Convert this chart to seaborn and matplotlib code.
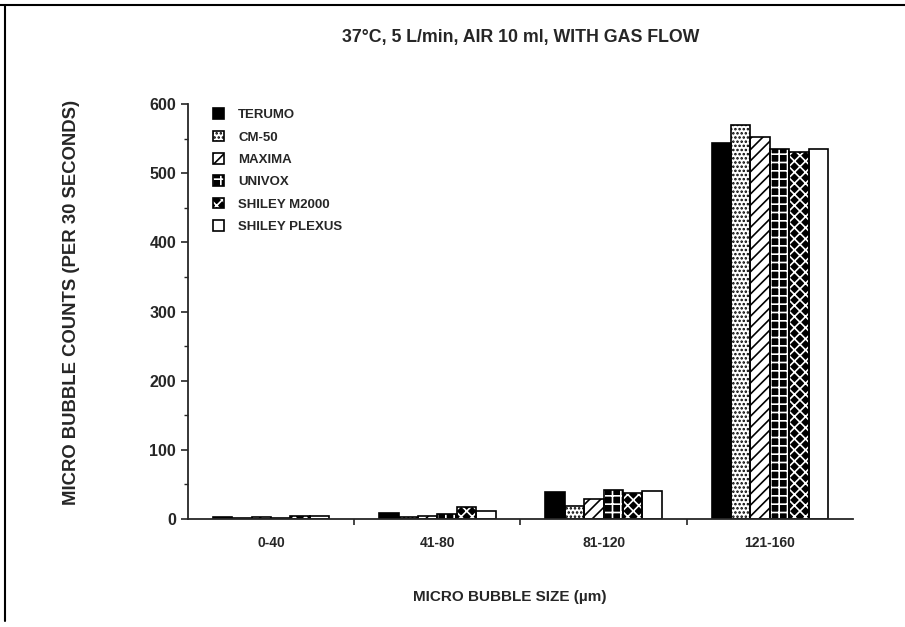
import pandas as pd
import matplotlib
matplotlib.use("Agg")
import matplotlib.pyplot as plt
import seaborn as sns
from matplotlib.patches import Patch, Rectangle
from matplotlib.legend_handler import HandlerTuple

# values
sizes = ["0-40", "41-80", "81-120", "121-160"]
devices = ["TERUMO", "CM-50", "MAXIMA", "UNIVOX", "SHILEY M2000", "SHILEY PLEXUS"]
terumo = [3, 8, 39, 543]
cm50 = [2, 3, 19, 570]
maxima = [3, 4, 29, 552]
univox = [2, 7, 42, 535]
m2000 = [4, 18, 37, 530]
plexus = [4, 11, 40, 535]
counts = [terumo, cm50, maxima, univox, m2000, plexus]

rows = []
for dev, vals in zip(devices, counts):
    for s, v in zip(sizes, vals):
        rows.append({"size": s, "device": dev, "count": v})
df = pd.DataFrame(rows)

# face colour, hatch, hatch colour per device
styles = {
    "TERUMO": ("black", "", "black"),
    "CM-50": ("white", "....", "black"),
    "MAXIMA": ("white", "///", "black"),
    "UNIVOX": ("black", "++", "white"),
    "SHILEY M2000": ("black", "xxx", "white"),
    "SHILEY PLEXUS": ("white", "", "black"),
}

sns.set_style("ticks")
plt.rcParams["font.family"] = ["Liberation Sans", "DejaVu Sans"]
plt.rcParams["font.weight"] = "bold"
plt.rcParams["hatch.linewidth"] = 1.2

fig = plt.figure(figsize=(9.05, 6.27), dpi=100)
ax = fig.add_axes([0.2077, 0.1722, 0.7348, 0.6619])

sns.barplot(data=df, x="size", y="count", hue="device", hue_order=devices,
            order=sizes, palette=["white"] * 6, width=0.7, ax=ax,
            legend=False, errorbar=None)

for dev, cont in zip(devices, ax.containers):
    face, hatch, hcol = styles[dev]
    for p in cont.patches:
        p.set_facecolor(face)
        p.set_hatch(hatch)
        p.set_edgecolor(hcol)
        p.set_linewidth(0)
        ax.add_patch(Rectangle(p.get_xy(), p.get_width(), p.get_height(),
                               fill=False, edgecolor="black", linewidth=1.2,
                               zorder=p.get_zorder() + 0.1))

handles = []
for dev in devices:
    face, hatch, hcol = styles[dev]
    h1 = Patch(facecolor=face, hatch=hatch, edgecolor=hcol, linewidth=0)
    h2 = Patch(facecolor="none", edgecolor="black", linewidth=1.2)
    handles.append((h1, h2))
ax.legend(handles, devices, handler_map={tuple: HandlerTuple(ndivide=1, pad=0)},
          loc="upper left", bbox_to_anchor=(0.02, 1.018), frameon=False,
          handlelength=0.85, handleheight=0.85, handletextpad=1.05,
          labelspacing=0.72, prop={"size": 9.5, "weight": "bold"})

ax.set_ylim(0, 600)
ax.set_xlim(-0.5, 3.5)
ax.set_yticks(range(0, 601, 100))
ax.set_yticks(range(50, 600, 100), minor=True)
ax.set_xticks([0.5, 1.5, 2.5], minor=True)
ax.tick_params(axis="x", which="major", length=0, pad=12, labelsize=10)
ax.tick_params(axis="x", which="minor", length=4, width=1.2, direction="out")
ax.tick_params(axis="y", which="major", length=5, width=1.2, labelsize=11.5)
ax.tick_params(axis="y", which="minor", length=3, width=1)
for lab in ax.get_xticklabels() + ax.get_yticklabels():
    lab.set_fontweight("bold")
ax.set_xlabel("")
ax.set_ylabel("")
sns.despine(ax=ax)
ax.spines["left"].set_linewidth(1.3)
ax.spines["bottom"].set_linewidth(1.3)

fig.text(0.575, 0.94, "37°C, 5 L/min, AIR 10 ml, WITH GAS FLOW",
         ha="center", va="center", fontsize=12.8, fontweight="bold")
fig.text(0.563, 0.048, "MICRO BUBBLE SIZE (\u00b5m)",
         ha="center", va="center", fontsize=11, fontweight="bold")
fig.text(0.079, 0.518, "MICRO BUBBLE COUNTS (PER 30 SECONDS)", rotation=90,
         ha="center", va="center", fontsize=13.3, fontweight="bold")

# frame around the figure
fig.add_artist(plt.Line2D([0.0, 1.0], [0.992, 0.992], color="black", lw=1.5))
fig.add_artist(plt.Line2D([0.006, 0.006], [0.01, 0.992], color="black", lw=1.5))

fig.savefig("out.png", dpi=100)
